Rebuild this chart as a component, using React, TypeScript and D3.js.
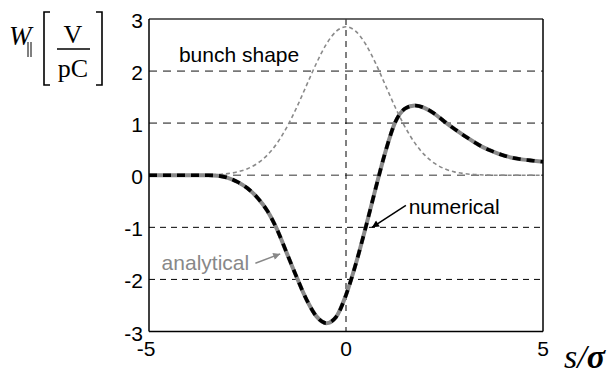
import React from 'react';
import * as d3 from 'd3';

// s / sigma sample positions
const sValues = [
  -5, -4.75, -4.5, -4.25, -4, -3.75, -3.5, -3.25, -3, -2.75, -2.5, -2.25, -2, -1.75, -1.5, -1.25, -1, -0.75, -0.5, -0.25,
  0, 0.25, 0.5, 0.75, 1, 1.25, 1.5, 1.75, 2, 2.25, 2.5, 2.75, 3, 3.25, 3.5, 3.75, 4, 4.25, 4.5, 4.75, 5,
];

// longitudinal wake (V/pC)
const wakeValues = [
  0, 0, 0, 0, 0, 0, 0, -0.01, -0.05, -0.13, -0.25, -0.43, -0.68, -1.04, -1.5, -1.96, -2.39, -2.71, -2.84, -2.72,
  -2.3, -1.7, -1.0, -0.26, 0.45, 1.02, 1.28, 1.34, 1.29, 1.18, 1.03, 0.89, 0.76, 0.64, 0.53, 0.45, 0.38, 0.33, 0.3, 0.28, 0.26,
];

// bunch shape (arb. scale)
const bunchValues = [
  0, 0, 0, 0, 0, 0, 0.006, 0.014, 0.032, 0.065, 0.125, 0.227, 0.386, 0.616, 0.925, 1.305, 1.729, 2.152, 2.515, 2.762,
  2.85, 2.762, 2.515, 2.152, 1.729, 1.305, 0.925, 0.616, 0.386, 0.227, 0.125, 0.065, 0.032, 0.014, 0.006, 0, 0, 0, 0, 0, 0,
];

const xTicks = [-5, 0, 5];
const yTicks = [-3, -2, -1, 0, 1, 2, 3];

const sans = 'Liberation Sans, Arial, sans-serif';
const serif = 'Liberation Serif, Times New Roman, serif';

const App = () => {
  const left = 149;
  const right = 543;
  const top = 19;
  const bottom = 331.5;

  const x = d3.scaleLinear().domain([-5, 5]).range([left, right]);
  const y = d3.scaleLinear().domain([-3, 3]).range([bottom, top]);

  const line = d3
    .line<number>()
    .x((_, i) => x(sValues[i]))
    .y((d) => y(d))
    .curve(d3.curveMonotoneX);

  const wakePath = line(wakeValues) || '';
  const bunchPath = line(bunchValues) || '';

  return (
    <svg width={613} height={376} style={{ position: 'absolute', left: 0, top: 0, background: '#fff' }}>
      <defs>
        <marker id="arrGray" viewBox="0 0 10 10" refX="10" refY="5" markerWidth="9" markerHeight="7" orient="auto" markerUnits="userSpaceOnUse">
          <path d="M0,0 L10,5 L0,10 Z" fill="#888" />
        </marker>
        <marker id="arrBlack" viewBox="0 0 10 10" refX="10" refY="5" markerWidth="9" markerHeight="7" orient="auto" markerUnits="userSpaceOnUse">
          <path d="M0,0 L10,5 L0,10 Z" fill="#000" />
        </marker>
      </defs>

      {/* grid */}
      {yTicks
        .filter((t) => t > -3 && t < 3)
        .map((t) => (
          <line
            key={'g' + t}
            x1={left}
            x2={right}
            y1={y(t)}
            y2={y(t)}
            stroke={t >= 0 ? '#777' : '#000'}
            strokeWidth={t >= 0 ? 1.6 : 1}
            strokeDasharray={t >= 0 ? '8,6' : '6,5'}
          />
        ))}
      <line x1={x(0)} x2={x(0)} y1={top} y2={bottom} stroke="#000" strokeWidth={1} strokeDasharray="6,5" />

      {/* bunch shape */}
      <path d={bunchPath} fill="none" stroke="#8a8a8a" strokeWidth={1.6} strokeDasharray="4,3" />

      {/* analytical + numerical wake */}
      <path d={wakePath} fill="none" stroke="#8a8a8a" strokeWidth={4} />
      <path d={wakePath} fill="none" stroke="#000" strokeWidth={3.6} strokeDasharray="8,6" />

      {/* axes box */}
      <line x1={left} x2={right} y1={top} y2={top} stroke="#333" strokeWidth={1.5} />
      <line x1={left} x2={left} y1={top} y2={bottom} stroke="#000" strokeWidth={1.5} />
      <line x1={right} x2={right} y1={top} y2={bottom} stroke="#000" strokeWidth={1.5} />
      <line x1={left} x2={right} y1={bottom} y2={bottom} stroke="#000" strokeWidth={1.5} />

      {/* tick labels */}
      {yTicks.map((t) => (
        <text key={'y' + t} x={143} y={y(t) + 9} textAnchor="end" fontFamily={sans} fontSize={21}>
          {t}
        </text>
      ))}
      {xTicks.map((t) => (
        <text key={'x' + t} x={x(t) - (t < 0 ? 3 : 0)} y={356} textAnchor="middle" fontFamily={sans} fontSize={21}>
          {t}
        </text>
      ))}

      {/* annotations */}
      <text x={x(-4.24)} y={y(2.17)} fontFamily={sans} fontSize={21}>
        bunch shape
      </text>
      <text x={x(-4.68)} y={y(-1.81)} fontFamily={sans} fontSize={21} fill="#888">
        analytical
      </text>
      <line x1={x(-2.3)} y1={y(-1.69)} x2={x(-1.67)} y2={y(-1.51)} stroke="#888" strokeWidth={1.5} markerEnd="url(#arrGray)" />
      <text x={x(1.59)} y={y(-0.74)} fontFamily={sans} fontSize={21}>
        numerical
      </text>
      <line x1={x(1.52)} y1={y(-0.58)} x2={x(0.66)} y2={y(-1.0)} stroke="#000" strokeWidth={1.5} markerEnd="url(#arrBlack)" />

      {/* y axis title: W|| [V / pC] */}
      <text x={9} y={45} fontFamily={serif} fontStyle="italic" fontSize={27}>
        W
      </text>
      <line x1={28} x2={28} y1={42} y2={57} stroke="#000" strokeWidth={1} />
      <line x1={31} x2={31} y1={42} y2={57} stroke="#000" strokeWidth={1} />
      <path d="M50,12 H44 V85 H50" fill="none" stroke="#000" strokeWidth={1.6} />
      <path d="M96,12 H102 V85 H96" fill="none" stroke="#000" strokeWidth={1.6} />
      <text x={73} y={43} textAnchor="middle" fontFamily={serif} fontSize={26}>
        V
      </text>
      <line x1={57} x2={90} y1={49} y2={49} stroke="#000" strokeWidth={1.4} />
      <text x={73} y={77} textAnchor="middle" fontFamily={serif} fontSize={26}>
        pC
      </text>

      {/* x axis title */}
      <text x={564} y={368} fontFamily={serif} fontStyle="italic" fontSize={34}>
        s/<tspan fontWeight="bold">σ</tspan>
      </text>
    </svg>
  );
};

export default App;
